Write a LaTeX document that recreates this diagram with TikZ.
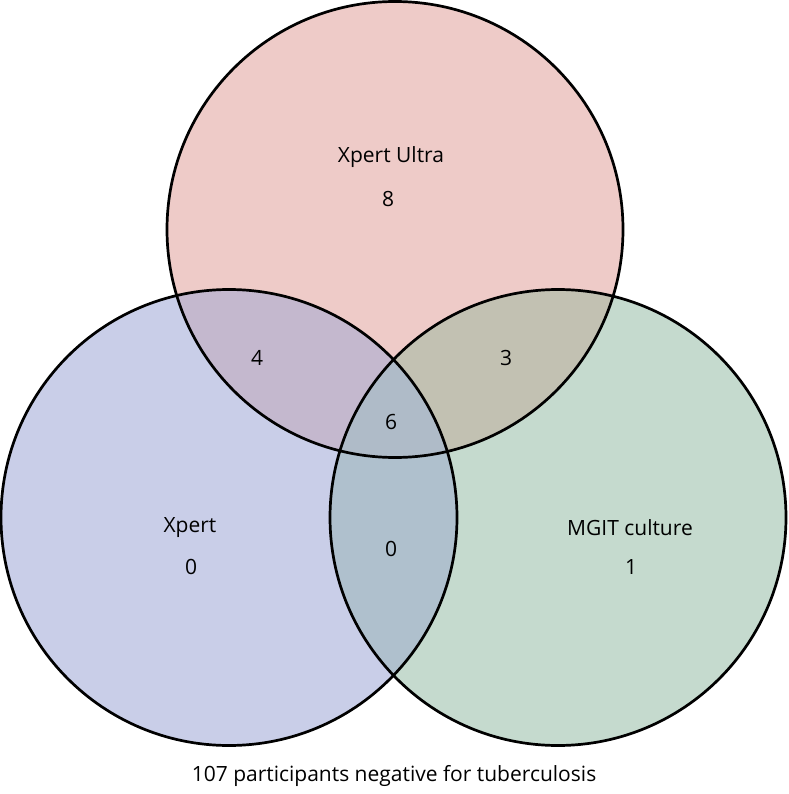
\documentclass[tikz,border=0pt]{standalone}
\usepackage{fontspec}
\setmainfont{Open Sans}
\definecolor{ctop}{RGB}{238,203,200}
\definecolor{cleft}{RGB}{201,206,232}
\definecolor{cright}{RGB}{197,218,206}
\definecolor{ctl}{RGB}{196,184,206}
\definecolor{ctr}{RGB}{194,193,178}
\definecolor{clr}{RGB}{175,192,205}
\definecolor{call}{RGB}{175,187,200}
\tikzset{ring/.style={draw=black,line width=2.7pt},
lbl/.style={inner sep=0pt,font=\fontsize{21}{24}\selectfont}}
\begin{document}
\begin{tikzpicture}[x=1pt,y=-1pt]
\useasboundingbox (0,0) rectangle (788,794);
\def\Top{(395,229.5) circle (228)}
\def\Lft{(229,517.5) circle (228)}
\def\Rgt{(558,517.5) circle (228)}
\fill[ctop] \Top;
\fill[cleft] \Lft;
\fill[cright] \Rgt;
\begin{scope}\clip \Top; \fill[ctl] \Lft; \fill[ctr] \Rgt;\end{scope}
\begin{scope}\clip \Lft; \fill[clr] \Rgt;\end{scope}
\begin{scope}\clip \Top; \clip \Lft; \fill[call] \Rgt;\end{scope}
\draw[ring] \Top;
\draw[ring] \Lft;
\draw[ring] \Rgt;
\node[lbl] (tname) at (391,157) {Xpert Ultra};
\node[lbl] (tnum) at (388,199) {8};
\node[lbl] (tl) at (257,358) {4};
\node[lbl] (tr) at (506,358) {3};
\node[lbl] (all) at (391,422) {6};
\node[lbl] (lname) at (190,528) {Xpert};
\node[lbl] (lnum) at (191,567) {0};
\node[lbl] (lr) at (391,549) {0};
\node[lbl] (rname) at (630,528) {MGIT culture};
\node[lbl] (rnum) at (631,567) {1};
\node[lbl] (cap) at (394,776) {107 participants negative for tuberculosis};
\end{tikzpicture}
\end{document}
